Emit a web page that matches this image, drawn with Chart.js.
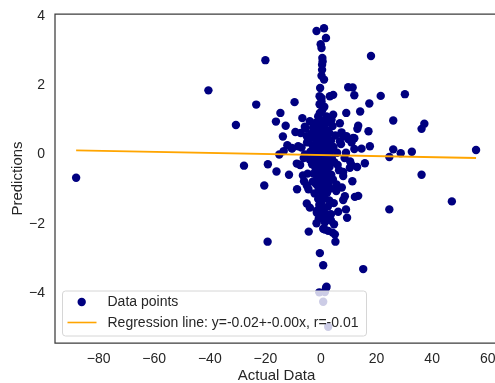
<!DOCTYPE html>
<html>
<head>
<meta charset="utf-8">
<script src="https://cdn.jsdelivr.net/npm/chart.js@4.4.1/dist/chart.umd.min.js"></script>
<style>
  html, body { margin: 0; padding: 0; background: #fff; overflow: hidden; }
  #wrap { width: 510px; height: 383px; }
</style>
</head>
<body>
<div id="wrap"><canvas id="myChart" width="510" height="383"></canvas></div>
<script>
// actual vs predicted values
const actualData = [
  -88.1, -40.5, -30.6, -27.7, -23.3, -20.0, -20.4, -19.2, -19.1, -16.2,
  -16.0, -14.6, -13.7, -12.7, -15.0, -13.4, -12.1, -11.5, -10.4, -9.5,
  -9.2, -8.6, -8.7, -8.2, -6.7, -7.6, -6.1, -5.1, -4.4, -5.1,
  -4.0, -5.8, -7.3, -5.1, -4.0, -10.5,
  18.0, 9.8, 11.4, 12.0, 21.5, 30.2, 17.4, 14.1, 9.1, 26.0,
  37.2, 36.2, 17.1, 13.4, 13.1, 12.0, 14.6, 12.0, 26.0, 28.7,
  32.7, 24.6, 55.8, 36.2, 47.1, 24.6, 15.2, 15.8, 13.0, 11.0,
  11.3, 12.2, 13.4, 9.0, 9.4, 8.0, 8.0, 7.4, 9.2, 6.8,
  11.6, 17.6, 10.4, 8.0, 8.6, 5.6,
  -1.6, 1.1, 1.8, -0.1, 0.2, 0.5, 0.6, 0.4, 0.4, 0.2,
  1.1, -0.3, -0.5, 0.2, 3.2, 4.4, 0.2, 0.8, -0.4, 2.0,
  4.4, 3.8,
  5.2, 4.7, 4.2, 5.0, 0.8, 1.4, 2.6, -1.6, -0.4, 0.8,
  2.0, 1.8, -0.6, 1.4, 0.8, 2.6, -1.5, 0.0, 1.8, 3.6,
  0.0, 1.1,
  -0.5, 1.2, 0.3, -1.0, 2.5, 0.8, -1.8, 3.5, 1.6, -0.2,
  4.2, -2.8, 0.5, 2.0, -1.2, 3.0, -3.5, 1.0, -0.6, 5.2,
  2.4, -2.2, 0.2, -4.2, 3.6, 1.5, -1.5, -0.3, 2.8, -2.9,
  4.5, 0.7, -1.9, 1.9, -0.8, 3.3, -3.8, 0.4, 2.2, -1.3,
  5.8, -0.1, 1.3, -2.5, 3.9, 0.9, -0.7, 2.6, -1.7, 4.8,
  0.1, -3.2, 1.7, -0.4, 3.1, -2.0, 0.6, 2.3, -1.1, 6.5,
  -0.2, 1.4, -2.7, 3.7, 0.3, -1.4, 2.0, -0.5, 4.3, 1.1,
  -3.0, 0.0, 2.7, -1.8, 0.8, -0.9, 3.4, 1.6, -0.3, 5.5,
  2.2, -2.3, 0.5, 1.2, -1.0, 3.0, 0.2, 4.6, -0.6, 2.5,
  1.0, -1.5, 6.2, 0.4, 2.0, -0.8, 3.6, 1.4,
  7.2, 8.5, 9.8, 6.8, 8.0, 7.5, 10.5, 9.0, 6.0, 11.0,
  -5.0, -6.2, -4.8, -7.0, -5.5, -6.5, -4.5, -7.5, -5.8, -4.0
];
const predictions = [
  -0.67, 1.85, 0.85, -0.32, 1.44, 2.72, -0.89, -2.51, -0.28, 0.95,
  -0.49, 1.20, 0.52, 0.83, 0.00, 0.10, 0.27, -0.58, 0.17, 1.51,
  0.65, -1.00, -0.26, 0.24, 1.05, -0.29, -0.77, -0.89, -2.22, -1.41,
  -1.53, 0.80, 0.62, 0.53, 0.96, 0.19,
  2.84, 1.94, 1.93, 1.71, 1.69, 1.74, 1.47, 1.24, 1.20, 0.98,
  0.89, 0.74, 0.67, 0.83, 0.74, 0.47, 0.17, 0.16, 0.15, 0.04,
  0.08, -0.07, 0.13, -0.58, -1.35, -1.58, -3.30, -0.25, -0.36, -0.30,
  -0.77, -1.22, -1.19, -1.58, -1.82, -1.31, 0.53, 0.64, 0.53, 0.38,
  0.48, 0.24, -0.38, -0.62, -1.20, -0.86,
  3.56, 3.64, 3.36, 3.18, 3.07, 2.78, 2.68, 2.59, 2.44, 2.27,
  2.16, 1.92, 1.68, 1.63, 1.68, 1.72, 1.53, 1.34, 1.20, 1.10,
  1.15, 1.00,
  -2.51, -2.01, -2.25, -2.30, -2.14, -2.16, -2.20, -1.98, -2.84, -3.19,
  -3.81, -3.85, -3.97, -3.96, -4.24, -4.96, -1.68, -1.72, -1.72, -1.72,
  -1.82, -1.87,
  1.45, 1.38, 1.25, 1.10, 1.05, 0.98, 0.92, 0.95, 0.88, 0.85,
  0.82, 0.78, 0.75, 0.70, 0.68, 0.62, 0.60, 0.58, 0.55, 0.55,
  0.50, 0.48, 0.45, 0.42, 0.40, 0.38, 0.35, 0.30, 0.28, 0.25,
  0.22, 0.20, 0.18, 0.15, 0.12, 0.10, 0.08, 0.05, 0.02, 0.00,
  0.05, -0.03, -0.06, -0.08, -0.10, -0.12, -0.15, -0.18, -0.20, -0.22,
  -0.25, -0.28, -0.30, -0.33, -0.35, -0.38, -0.40, -0.43, -0.45, -0.45,
  -0.50, -0.53, -0.55, -0.58, -0.60, -0.63, -0.66, -0.70, -0.72, -0.75,
  -0.78, -0.80, -0.83, -0.85, -0.90, -0.95, -0.98, -1.02, -1.05, -1.05,
  -1.10, -1.12, -1.18, -1.25, -1.28, -1.32, -1.38, -1.40, -1.45, -1.50,
  -1.58, -1.62, -1.65, -1.72, -1.78, -1.85, -1.90, -1.95,
  0.30, -0.10, 0.45, 0.90, -0.50, -0.95, -0.20, 0.05, -0.30, 0.35,
  0.35, -0.10, -0.55, 0.20, 0.75, -0.60, -1.00, -0.30, 0.00, -0.15
];
// regression line end points
const lineX = [-88.1, 55.8];
const lineY = [0.12, -0.10];

const xTicks = [-80, -60, -40, -20, 0, 20, 40, 60];
const yTicks = [-4, -2, 0, 2, 4];
const legendLabels = ["Data points", "Regression line: y=-0.02+-0.00x, r=-0.01"];

const textColor = "#262626";
const navy = "#000080";
const orange = "#FFA500";
const fontFamily = "'Liberation Sans', Arial, sans-serif";

const minus = (v) => String(v).replace("-", "\u2212");

// axes frame: left, top and bottom spines (the right one is off the picture)
const framePlugin = {
  id: "frame",
  beforeDatasetsDraw(chart) {
    const { ctx, chartArea: a } = chart;
    ctx.save();
    ctx.strokeStyle = "#3c3c3c";
    ctx.lineWidth = 1.25;
    ctx.beginPath();
    ctx.moveTo(a.right + 5, a.top);
    ctx.lineTo(a.left, a.top);
    ctx.lineTo(a.left, a.bottom);
    ctx.lineTo(a.right + 5, a.bottom);
    ctx.stroke();
    ctx.restore();
  },
};

// matplotlib-like legend box in the lower left corner
const legendPlugin = {
  id: "boxLegend",
  afterDatasetsDraw(chart) {
    const { ctx } = chart;
    const x = 62.5, y = 291, w = 304, h = 45;
    ctx.save();
    ctx.beginPath();
    ctx.roundRect(x, y, w, h, 3);
    ctx.fillStyle = "rgba(255,255,255,0.8)";
    ctx.fill();
    ctx.strokeStyle = "#d6d6d6";
    ctx.lineWidth = 1;
    ctx.stroke();

    ctx.fillStyle = navy;
    ctx.beginPath();
    ctx.arc(81.7, 302, 4.2, 0, Math.PI * 2);
    ctx.fill();

    ctx.strokeStyle = orange;
    ctx.lineWidth = 1.6;
    ctx.beginPath();
    ctx.moveTo(67.5, 322.5);
    ctx.lineTo(96.5, 322.5);
    ctx.stroke();

    ctx.fillStyle = textColor;
    ctx.font = "14px " + fontFamily;
    ctx.textBaseline = "middle";
    ctx.fillText(legendLabels[0], 107.5, 302.5);
    ctx.fillText(legendLabels[1], 107.5, 323);
    ctx.restore();
  },
};

const ctx = document.getElementById("myChart").getContext("2d");

new Chart(ctx, {
  type: "scatter",
  data: {
    datasets: [
      {
        type: "line",
        label: legendLabels[1],
        data: lineX.map((v, i) => ({ x: v, y: lineY[i] })),
        borderColor: orange,
        borderWidth: 1.8,
        pointRadius: 0,
        fill: false,
      },
      {
        label: legendLabels[0],
        data: actualData.map((v, i) => ({ x: v, y: predictions[i] })),
        backgroundColor: navy,
        borderWidth: 0,
        pointRadius: 4.2,
      },
    ],
  },
  options: {
    responsive: false,
    animation: false,
    devicePixelRatio: 1,
    layout: { padding: { top: 14, right: 12, left: 0, bottom: 0 } },
    plugins: {
      legend: { display: false },
      tooltip: { enabled: false },
    },
    scales: {
      x: {
        type: "linear",
        min: -95.7,
        max: 63.7,
        grid: { display: false, drawTicks: false },
        border: { display: false },
        afterBuildTicks: (scale) => {
          scale.ticks = xTicks.map((v) => ({ value: v }));
        },
        afterFit: (scale) => {
          scale.height = 40;
          scale.paddingLeft = 0;
          scale.paddingRight = 0;
        },
        ticks: {
          padding: 8,
          maxRotation: 0,
          color: textColor,
          font: { size: 14, family: fontFamily },
          callback: minus,
        },
        title: {
          display: true,
          text: "Actual Data",
          color: textColor,
          font: { size: 15, family: fontFamily, lineHeight: 1 },
          padding: { top: 0, bottom: 0 },
        },
      },
      y: {
        min: -5.43,
        max: 4.05,
        grid: { display: false, drawTicks: false },
        border: { display: false },
        afterBuildTicks: (scale) => {
          scale.ticks = yTicks.map((v) => ({ value: v }));
        },
        afterFit: (scale) => {
          scale.width = 55;
          scale.paddingTop = 0;
          scale.paddingBottom = 0;
        },
        ticks: {
          padding: 10,
          color: textColor,
          font: { size: 14, family: fontFamily },
          callback: minus,
        },
        title: {
          display: true,
          text: "Predictions",
          color: textColor,
          font: { size: 15, family: fontFamily, lineHeight: 1 },
          padding: { top: 10, bottom: 0 },
        },
      },
    },
  },
  plugins: [framePlugin, legendPlugin],
});
</script>
</body>
</html>
